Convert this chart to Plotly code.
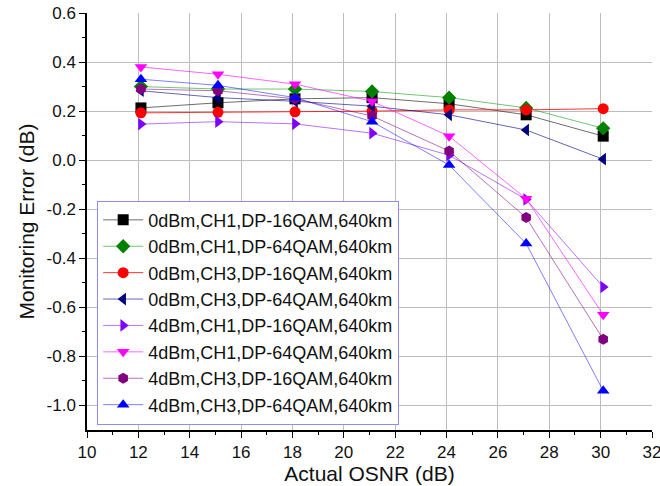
import plotly.graph_objects as go

# Actual OSNR (dB) at each measurement point
osnr = [12.1, 15.1, 18.1, 21.1, 24.1, 27.1, 30.1]

# Monitoring error (dB) for each launch power / channel / format case
err_0dbm_ch1_16qam = [0.213, 0.234, 0.250, 0.255, 0.230, 0.185, 0.098]
err_0dbm_ch1_64qam = [0.300, 0.290, 0.290, 0.280, 0.255, 0.213, 0.130]
err_0dbm_ch3_16qam = [0.193, 0.195, 0.197, 0.200, 0.205, 0.205, 0.210]
err_0dbm_ch3_64qam = [0.283, 0.255, 0.240, 0.220, 0.185, 0.123, 0.004]
err_4dbm_ch1_16qam = [0.147, 0.157, 0.148, 0.110, 0.020, -0.160, -0.517]
err_4dbm_ch1_64qam = [0.380, 0.350, 0.310, 0.240, 0.098, -0.157, -0.630]
err_4dbm_ch3_16qam = [0.290, 0.283, 0.250, 0.180, 0.037, -0.234, -0.730]
err_4dbm_ch3_64qam = [0.330, 0.305, 0.255, 0.157, -0.020, -0.340, -0.940]

series_names = [
    "0dBm,CH1,DP-16QAM,640km",
    "0dBm,CH1,DP-64QAM,640km",
    "0dBm,CH3,DP-16QAM,640km",
    "0dBm,CH3,DP-64QAM,640km",
    "4dBm,CH1,DP-16QAM,640km",
    "4dBm,CH1,DP-64QAM,640km",
    "4dBm,CH3,DP-16QAM,640km",
    "4dBm,CH3,DP-64QAM,640km",
]
series_values = [
    err_0dbm_ch1_16qam, err_0dbm_ch1_64qam, err_0dbm_ch3_16qam, err_0dbm_ch3_64qam,
    err_4dbm_ch1_16qam, err_4dbm_ch1_64qam, err_4dbm_ch3_16qam, err_4dbm_ch3_64qam,
]

# Axis ticks
x_ticks = [10, 12, 14, 16, 18, 20, 22, 24, 26, 28, 30, 32]
y_ticks = [0.6, 0.4, 0.2, 0.0, -0.2, -0.4, -0.6, -0.8, -1.0]
y_tick_labels = ["0.6", "0.4", "0.2", "0.0", "-0.2", "-0.4", "-0.6", "-0.8", "-1.0"]

# Styles: marker colour, line colour, symbol
styles = [
    ("#000000", "rgba(60,60,60,0.75)", "square"),
    ("#008000", "rgba(0,150,0,0.55)", "diamond"),
    ("#ff0000", "rgba(255,0,0,0.8)", "circle"),
    ("#000080", "rgba(0,0,128,0.6)", "triangle-left"),
    ("#8000ff", "rgba(128,0,255,0.55)", "triangle-right"),
    ("#ff00ff", "rgba(255,0,255,0.6)", "triangle-down"),
    ("#800080", "rgba(128,0,128,0.55)", "hexagon"),
    ("#0000ff", "rgba(0,0,255,0.5)", "triangle-up"),
]

font_family = "Arial, Liberation Sans, sans-serif"

fig = go.Figure()
for name, vals, (mcol, lcol, sym) in zip(series_names, series_values, styles):
    fig.add_trace(go.Scatter(
        x=osnr, y=vals, name=name, mode="lines+markers",
        line=dict(color=lcol, width=1),
        marker=dict(color=mcol, symbol=sym, size=11, line=dict(width=0)),
    ))

fig.update_layout(
    width=660, height=486,
    margin=dict(l=87, r=8, t=13, b=56),
    paper_bgcolor="white", plot_bgcolor="white",
    font=dict(family=font_family, color="#111111"),
    showlegend=True,
    legend=dict(
        x=0.018, y=0.55, xanchor="left", yanchor="top",
        bgcolor="white", bordercolor="#8c8cff", borderwidth=1,
        font=dict(size=18, family=font_family, color="#111111"),
        tracegroupgap=0, itemwidth=40,
    ),
)

fig.update_xaxes(
    range=[10, 32], tickvals=x_ticks, ticktext=[str(v) for v in x_ticks],
    ticklabeloverflow="allow", automargin=False,
    showgrid=True, gridcolor="#bdbdbd", gridwidth=1,
    showline=True, linecolor="black", linewidth=1.5, mirror=False,
    ticks="outside", ticklen=6, tickwidth=1.2, tickcolor="black",
    minor=dict(dtick=1, ticks="outside", ticklen=3, tickcolor="black", showgrid=False),
    tickfont=dict(size=17),
    title=dict(text="Actual OSNR (dB)", font=dict(size=21), standoff=4),
    zeroline=False,
)
fig.update_yaxes(
    range=[-1.1, 0.6], tickvals=y_ticks, ticktext=y_tick_labels,
    ticklabeloverflow="allow", automargin=False,
    showgrid=True, gridcolor="#bdbdbd", gridwidth=1,
    showline=True, linecolor="black", linewidth=1.5, mirror=False,
    ticks="outside", ticklen=6, tickwidth=1.2, tickcolor="black",
    minor=dict(tickvals=[0.5, 0.3, 0.1, -0.1, -0.3, -0.5, -0.7, -0.9],
               ticks="outside", ticklen=3, tickcolor="black", showgrid=False),
    tickfont=dict(size=17),
    title=dict(text="Monitoring Error (dB)", font=dict(size=21), standoff=6),
    zeroline=False,
)

fig.write_html("out.html")
